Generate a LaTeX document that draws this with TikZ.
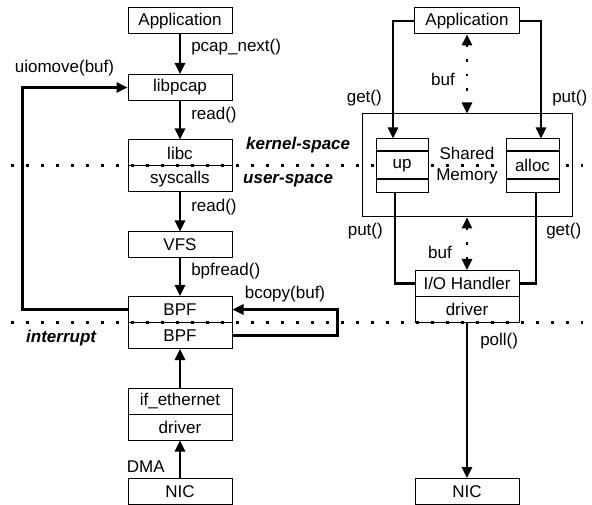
\documentclass[tikz,border=0pt]{standalone}
\usepackage{fontspec}
\setmainfont{Liberation Sans}
\usetikzlibrary{arrows.meta,positioning}
\tikzset{
  box/.style={draw,line width=1pt,minimum width=104pt,minimum height=26pt,inner sep=0pt},
  cell/.style={draw,fill=white,line width=1pt,inner sep=0pt},
  lab/.style={inner sep=0pt},
  arr/.style={->,line width=2.5pt},
  thk/.style={line width=2.5pt},
  darr/.style={<->,line width=2.5pt,dash pattern=on 2.5pt off 12pt},
  sep/.style={line width=3pt,dash pattern=on 3pt off 12pt},
  side/.style={inner sep=0pt,anchor=west,font=\fontsize{17}{20}\selectfont\bfseries\itshape},
}
\begin{document}
\begin{tikzpicture}[x=1pt,y=-1pt,font=\fontsize{17}{21}\selectfont,>={Triangle[length=11pt,width=10pt]}]
\useasboundingbox (0,0) rectangle (592,505);
\def\lx{180}% left column
\def\rx{467}% right column
% dotted borders
\foreach \y in {166,322} \draw[sep] (10.5,\y) -- (583,\y);
\node[side] (ks) at (246,145) {kernel-space};
\node[side] (us) at (243,181) {user-space};
\node[side] (ir) at (26,338) {interrupt};
% left stack
\foreach \n/\y/\t in {app/21/Application,pcap/87.5/libpcap,libc/153/libc,sys/179/syscalls,vfs/245/VFS,bpfa/309.5/BPF,bpfb/335.5/BPF,eth/401/if\_ethernet,drv/427/driver,nic/491.5/NIC}
  \node[box] (\n) at (\lx,\y) {\t};
\draw[arr] (app) -- node[lab,anchor=west,xshift=10pt,pos=.32] (t1) {pcap\_next()} (pcap);
\draw[arr] (pcap) -- node[lab,anchor=west,xshift=10pt,pos=.375] (t2) {read()} (libc);
\draw[arr] (sys) -- node[lab,anchor=west,xshift=10pt,pos=.375] (t3) {read()} (vfs);
\draw[arr] (vfs) -- node[lab,anchor=west,xshift=10pt,pos=.33] (t4) {bpfread()} (bpfa);
\draw[arr] (bpfa.west) -- ++(-105,0) |- node[lab,pos=.7,above=10pt] (t5) {uiomove(buf)} (pcap.west);
\draw[arr] (bpfb.east) -- ++(105,0) |- node[lab,pos=.75,above=6.5pt] (t6) {bcopy(buf)} (bpfa.east);
\draw[arr] (eth) -- (bpfb);
\draw[arr] (nic) -- node[lab,anchor=east,xshift=-14pt,pos=.31] (t7) {DMA} (drv);
% right stack
\node[box,minimum width=105pt] (app2) at (\rx,21) {Application};
\node[draw,line width=1pt,minimum width=210pt,minimum height=103pt,align=center,inner sep=0pt] (shm) at (\rx,165.5) {Shared\\Memory};
\node[cell,minimum width=52pt,minimum height=27pt] (up) at (402,165.5) {up};
\node[cell,minimum width=52pt,minimum height=12pt,above=0pt of up] (upt) {};
\node[cell,minimum width=52pt,minimum height=13pt,below=0pt of up] (upb) {};
\node[cell,minimum width=53pt,minimum height=27pt] (al) at (532.5,165.5) {alloc};
\node[cell,minimum width=53pt,minimum height=12pt,above=0pt of al] (alt) {};
\node[cell,minimum width=53pt,minimum height=13pt,below=0pt of al] (alb) {};
\node[box] (ioh) at (\rx,283.5) {I/O Handler};
\node[box] (drv2) at (\rx,309.5) {driver};
\node[box] (nic2) at (\rx,491.5) {NIC};
\draw[arr] (app2.west) -| node[lab,anchor=east,xshift=-10pt,pos=.83] (g1) {get()} ([xshift=-9pt]upt.north);
\draw[arr] (app2.east) -| node[lab,anchor=west,xshift=10pt,pos=.83] (p1) {put()} ([xshift=8.5pt]alt.north);
\draw[thk] ([xshift=-7pt]upb.south) |- node[lab,anchor=east,xshift=-11pt,pos=.21] (p2) {put()} (ioh.west);
\draw[thk] ([xshift=3.5pt]alb.south) |- node[lab,anchor=west,xshift=9pt,pos=.21] (g2) {get()} (ioh.east);
\draw[darr] (app2) -- node[lab,anchor=east,xshift=-11pt,pos=.575] (b1) {buf} (shm);
\draw[darr] (shm) -- node[lab,anchor=east,xshift=-14pt,pos=.66] (b2) {buf} (ioh);
\draw[arr] (drv2) -- node[lab,anchor=west,xshift=12pt,pos=.115] (t9) {poll()} (nic2);
\end{tikzpicture}
\end{document}
